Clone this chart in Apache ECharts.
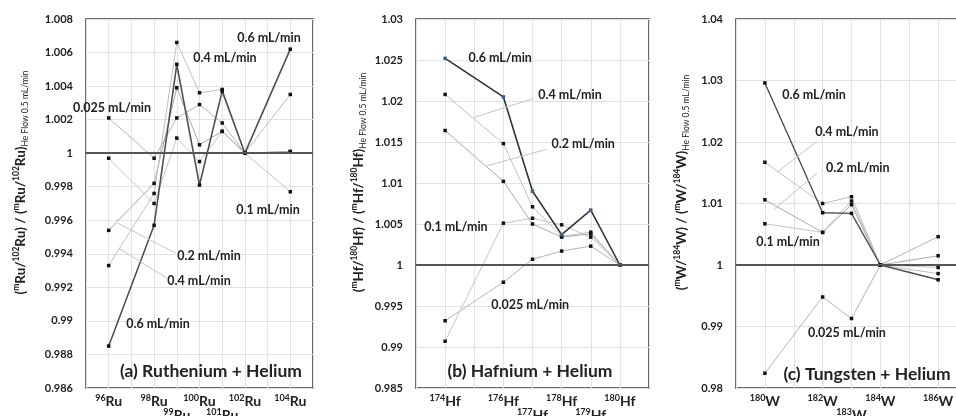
<!DOCTYPE html>
<html><head><meta charset="utf-8">
<script src="https://cdn.jsdelivr.net/npm/echarts@6/dist/echarts.min.js"></script>
<style>html,body{margin:0;padding:0;background:#fff}#c{width:956px;height:416px}</style>
</head><body><div id="c"></div><script>
// ---------- data ----------
const ruMass = [96, 98, 99, 100, 101, 102, 104];
const ruStagger = [99, 101];
const ru025 = [1.0021, 0.9997, 1.0021, 1.0029, 1.0018, 1, 1.0001];
const ru01  = [0.9997, 0.9970, 1.0009, 0.9995, 1.0013, 1, 0.9977];
const ru02  = [0.9954, 0.9982, 1.0039, 1.0005, 1.0013, 1, 1.0001];
const ru04  = [0.9933, 0.9976, 1.0066, 1.0036, 1.0038, 1, 1.0035];
const ru06  = [0.9885, 0.9957, 1.0053, 0.9981, 1.0037, 1, 1.0062];

const hfMass = [174, 176, 177, 178, 179, 180];
const hfStagger = [177, 179];
const hf025 = [0.9932, 0.9979, 1.0007, 1.0017, 1.0023, 1];
const hf01  = [0.9907, 1.0051, 1.0057, 1.0049, 1.0034, 1];
const hf02  = [1.0164, 1.0102, 1.0050, 1.0034, 1.0038, 1];
const hf04  = [1.0208, 1.0148, 1.0071, 1.0035, 1.0040, 1];
const hf06  = [1.0252, 1.0205, 1.0090, 1.0037, 1.0067, 1];

const wMass = [180, 182, 183, 184, 186];
const wStagger = [183];
const w025 = [0.9824, 0.9948, 0.9913, 1, 1.0046];
const w01  = [1.0067, 1.0053, 1.0104, 1, 0.9996];
const w02  = [1.0106, 1.0053, 1.0098, 1, 1.0015];
const w04  = [1.0167, 1.0100, 1.0111, 1, 0.9986];
const w06  = [1.0296, 1.0085, 1.0084, 1, 0.9976];

// annotation texts, placed in data coordinates [mass, ratio, text]
const annA = [[103.06, 1.00687, '0.6 mL/min'], [101.12, 1.00567, '0.4 mL/min'], [96.15, 1.00269, '0.025 mL/min'],
  [103.02, 0.99660, '0.1 mL/min'], [100.42, 0.99385, '0.2 mL/min'], [99.98, 0.99236, '0.4 mL/min'], [98.17, 0.98979, '0.6 mL/min']];
const leadA = [[96.41, 0.99582, 98.96, 0.99403], [96.45, 0.99433, 98.57, 0.99254]];
const annB = [[175.89, 1.0253, '0.6 mL/min'], [178.29, 1.0207, '0.4 mL/min'], [178.74, 1.0148, '0.2 mL/min'],
  [174.37, 1.0046, '0.1 mL/min'], [176.92, 0.99518, '0.025 mL/min']];
const leadB = [[174.99, 1.0180, 177.02, 1.0203], [175.44, 1.0121, 177.47, 1.0141]];
const annC = [[181.70, 1.0276, '0.6 mL/min'], [182.84, 1.0217, '0.4 mL/min'], [183.22, 1.0157, '0.2 mL/min'],
  [180.80, 1.0037, '0.1 mL/min'], [182.84, 0.9890, '0.025 mL/min']];
const leadC = [[180.45, 1.0152, 181.80, 1.0201], [180.30, 1.0090, 181.80, 1.0149]];
const panelTitles = ['(a) Ruthenium + Helium', '(b) Hafnium + Helium', '(c) Tungsten + Helium'];

// ---------- chart ----------
const FONT = 'Lato, "Open Sans", sans-serif';
const grids = [
  {left: 86, right: 643, top: 19, bottom: 28},
  {left: 416, right: 307, top: 19, bottom: 28},
  {left: 736, right: -11, top: 19, bottom: 28}
];
const xRange = [[95, 105], [173, 181], [179, 187]];
const yRange = [[0.986, 1.008, 0.002], [0.985, 1.03, 0.005], [0.98, 1.04, 0.01]];
const masses = [ruMass, hfMass, wMass];
const staggers = [ruStagger, hfStagger, wStagger];
const elems = ['Ru', 'Hf', 'W'];
const refIso = ['102', '180', '184'];
const nameGaps = [56, 48, 45];

function xAxis(i) {
  return {
    type: 'value', gridIndex: i, min: xRange[i][0], max: xRange[i][1], interval: 1,
    axisLine: {show: false}, axisTick: {show: false},
    splitLine: {show: true, lineStyle: {color: '#e2e2e2', width: 1}},
    axisLabel: {
      margin: 6, lineHeight: 14, fontFamily: FONT, color: '#222',
      formatter: function (v) {
        const m = Math.round(v);
        if (masses[i].indexOf(m) < 0) return '';
        const t = '{s|' + m + '}{e|' + elems[i] + '}';
        return staggers[i].indexOf(m) >= 0 ? '\n' + t : t;
      },
      rich: {
        s: {fontSize: 9, fontWeight: 'bold', fontFamily: FONT, color: '#222', verticalAlign: 'top'},
        e: {fontSize: 14, fontWeight: 'bold', fontFamily: FONT, color: '#222', lineHeight: 14}
      }
    }
  };
}
function yAxis(i) {
  const el = elems[i], r = refIso[i];
  const nm = '{p|(}{sp|m}{p|' + el + '/}{sp|' + r + '}{p|' + el + ') / (}{sp|m}{p|' + el + '/}{sp|' + r + '}{p|' + el + ')}{sb|He Flow 0.5 mL/min}';
  return {
    type: 'value', gridIndex: i, min: yRange[i][0], max: yRange[i][1], interval: yRange[i][2],
    axisLine: {show: false}, axisTick: {show: false},
    splitLine: {show: true, lineStyle: {color: '#e2e2e2', width: 1}},
    axisLabel: {margin: 13, fontSize: 11, fontWeight: 'bold', fontFamily: FONT, color: '#222',
      formatter: v => String(+v.toFixed(4))},
    name: nm, nameLocation: 'middle', nameGap: nameGaps[i],
    nameTextStyle: {
      padding: [0, 0, 0, 42],
      rich: {
        p: {fontSize: 13.5, fontWeight: 'bold', fontFamily: FONT, color: '#222', lineHeight: 18},
        sp: {fontSize: 8.5, fontWeight: 'bold', fontFamily: FONT, color: '#222', verticalAlign: 'top'},
        sb: {fontSize: 8.5, fontFamily: FONT, color: '#222', verticalAlign: 'bottom'}
      }
    }
  };
}

const series = [];
function addLine(i, xs, ys, color, width, markColor) {
  series.push({
    type: 'line', xAxisIndex: i, yAxisIndex: i, z: width > 1.2 ? 4 : 3,
    data: xs.map((x, k) => [x, ys[k]]),
    symbol: 'rect', symbolSize: 3.5, showSymbol: true,
    lineStyle: {color: color, width: width},
    itemStyle: {color: markColor || '#111'},
    silent: true, animation: false,
    markLine: {silent: true, symbol: 'none', animation: false, label: {show: false},
      data: [{yAxis: 1, lineStyle: {color: '#555', width: 2, type: 'solid'}}]}
  });
}
const lineCols = {c025: '#b4b4b4', c01: '#c6c6c6', c02: '#a9a9a9', c04: '#c0c0c0'};
// Ru
addLine(0, ruMass, ru025, lineCols.c025, 1);
addLine(0, ruMass, ru01, lineCols.c01, 1);
addLine(0, ruMass, ru02, lineCols.c02, 1);
addLine(0, ruMass, ru04, lineCols.c04, 1);
addLine(0, ruMass, ru06, '#505050', 1.6);
// Hf
addLine(1, hfMass, hf025, lineCols.c025, 1);
addLine(1, hfMass, hf01, lineCols.c01, 1);
addLine(1, hfMass, hf02, lineCols.c02, 1);
addLine(1, hfMass, hf04, lineCols.c04, 1);
addLine(1, hfMass, hf06, '#333333', 1.6, '#3d5f8f');
// W
addLine(2, wMass, w025, lineCols.c025, 1);
addLine(2, wMass, w01, lineCols.c01, 1);
addLine(2, wMass, w02, lineCols.c02, 1);
addLine(2, wMass, w04, lineCols.c04, 1);
addLine(2, wMass, w06, '#505050', 1.4);

const titleCenters = [[211, 371], [530, 371], [867, 374]];
const chart = echarts.init(document.getElementById('c'), null, {renderer: 'canvas'});
chart.setOption({
  animation: false,
  backgroundColor: '#fff',
  grid: grids.map(g => Object.assign({show: true, borderColor: '#3a3a3a', borderWidth: 1.5,
    backgroundColor: 'rgba(0,0,0,0)', containLabel: false, outerBoundsMode: 'none'}, g)),
  xAxis: [0, 1, 2].map(xAxis),
  yAxis: [0, 1, 2].map(yAxis),
  series: series
});

// annotations positioned through the axes' own scales
const anns = [annA, annB, annC];
const leads = [leadA, leadB, leadC];
const gfx = [];
for (let i = 0; i < 3; i++) {
  leads[i].forEach(l => {
    const p1 = chart.convertToPixel({gridIndex: i}, [l[0], l[1]]);
    const p2 = chart.convertToPixel({gridIndex: i}, [l[2], l[3]]);
    gfx.push({type: 'line', z: 5, silent: true,
      shape: {x1: p1[0], y1: p1[1], x2: p2[0], y2: p2[1]},
      style: {stroke: '#c4c4c4', lineWidth: 1}});
  });
  anns[i].forEach(a => {
    const p = chart.convertToPixel({gridIndex: i}, [a[0], a[1]]);
    gfx.push({type: 'text', x: p[0], y: p[1], z: 10, silent: true,
      style: {text: a[2], font: 'bold 12.5px ' + FONT, fill: '#222', textAlign: 'center', textVerticalAlign: 'middle'}});
  });
  gfx.push({type: 'text', x: titleCenters[i][0], y: titleCenters[i][1], z: 10, silent: true,
    style: {text: panelTitles[i], font: 'bold 17.5px ' + FONT, fill: '#222', textAlign: 'center', textVerticalAlign: 'middle'}});
}
chart.setOption({graphic: gfx});
</script></body></html>
